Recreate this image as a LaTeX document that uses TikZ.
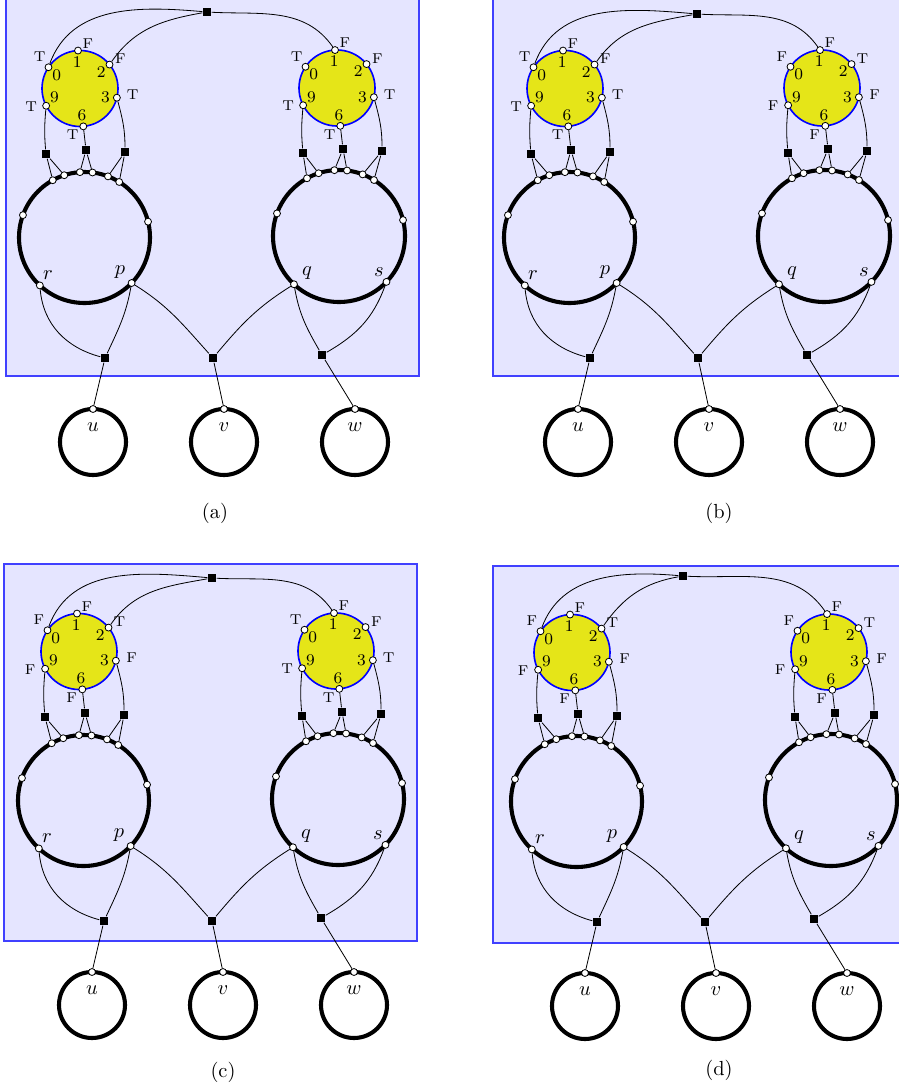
\documentclass[tikz,border=0pt]{standalone}
\usepackage{amsmath,amssymb}
\usepackage{xcolor}
\usepackage{tikz}
\usetikzlibrary{positioning}
\definecolor{gadgetyellow}{RGB}{229,229,24}

% variable gadget: six ports, digits inside, truth values outside
\newcommand{\yellowgadget}[4]{%
  \begin{scope}[shift={(#2)}]
    \draw[gadget] (0,0) circle (38);
    \foreach \p/\ang/\dang/\tang/\rad/\val in {0/146/150/142/51/#3, 1/93/96/80/46/F, 2/39/38/36/50/#4,
        3/-14/-19/-7/53/#3, 9/207/199/200/52/#3, 6/-85/-86/261/47/#3}{
      \node[port] (#1\p) at (\ang:38) {};
      \node[digit] (#1d\p) at (\dang:27) {\p};
      \node[tf] (#1v\p) at (\tang:\rad) {\val};
    }
  \end{scope}}

% big cycle with its ports
\newcommand{\bigring}[3]{%
  \begin{scope}[shift={(#2)}]
    \draw[ring] (0,0) circle (#3);
    \foreach \k/\ang in {1/119,2/108,3/94,4/83,5/69,6/58,7/160,8/14,9/227,10/316}
      \node[port] (#1\k) at (\ang:#3) {};
  \end{scope}}

% small cycle below the frame
\newcommand{\smallring}[3]{%
  \begin{scope}[shift={(#2)}]
    \draw[ring] (0,0) circle (33);
    \node[port] (#1) at (0,33) {};
    \node[var] (#1l) at (0,15) {$#3$};
  \end{scope}}

% one whole panel
\newcommand{\gadgetpanel}[6]{%
  \begin{scope}[shift={(#1)}]
    \yellowgadget{yl}{80,-88.5}{#3}{#4}
    \yellowgadget{yr}{337,-88}{#5}{#6}
    \bigring{bl}{84.5,-237.5}{65.5}
    \bigring{br}{339,-236}{66}
    \node[var] (lr) at (48,-275) {$r$};
    \node[var] (lp) at (120,-272) {$p$};
    \node[var] (lq) at (307,-273) {$q$};
    \node[var] (ls) at (379,-272) {$s$};
    \smallring{u}{93,-442}{u}
    \smallring{v}{224,-442}{v}
    \smallring{w}{355,-442}{w}
    % squares
    \node[sq] (top) at (#2) {};
    \node[sq] (la) at (46,-154) {};
    \node[sq] (lb) at (86,-150) {};
    \node[sq] (lc) at (125,-152) {};
    \node[sq] (ra) at (303,-153) {};
    \node[sq] (rb) at (343,-149) {};
    \node[sq] (rc) at (382,-151) {};
    \node[sq] (b1) at (105,-358) {};
    \node[sq] (b2) at (213,-358) {};
    \node[sq] (b3) at (322,-355) {};
    % top wires
    \draw[wire] (yl0) to[out=70,in=175] (top);
    \draw[wire] (yl2) to[out=55,in=190] (top);
    \draw[wire] (top) to[out=-3,in=125] (yr1);
    % gadget to ring
    \draw[wire] (yl9) to[out=-95,in=95] (la);
    \draw[wire] (yl6) -- (lb);
    \draw[wire] (yl3) to[out=-75,in=90] (lc);
    \draw[wire] (yr9) to[out=-95,in=95] (ra);
    \draw[wire] (yr6) -- (rb);
    \draw[wire] (yr3) to[out=-75,in=90] (rc);
    \draw[wire] (la) -- (bl1); \draw[wire] (la) -- (bl2);
    \draw[wire] (lb) -- (bl3); \draw[wire] (lb) -- (bl4);
    \draw[wire] (lc) -- (bl5); \draw[wire] (lc) -- (bl6);
    \draw[wire] (ra) -- (br1); \draw[wire] (ra) -- (br2);
    \draw[wire] (rb) -- (br3); \draw[wire] (rb) -- (br4);
    \draw[wire] (rc) -- (br5); \draw[wire] (rc) -- (br6);
    % bottom wires
    \draw[wire] (bl9) to[out=-85,in=165] (b1);
    \draw[wire] (bl10) to[out=-100,in=65] (b1);
    \draw[wire] (bl10) to[out=-32,in=132] (b2);
    \draw[wire] (br9) to[out=-148,in=50] (b2);
    \draw[wire] (br9) to[out=-80,in=120] (b3);
    \draw[wire] (br10) to[out=-110,in=30] (b3);
    \draw[wire] (b1) -- (u);
    \draw[wire] (b2) -- (v);
    \draw[wire] (b3) -- (w);
  \end{scope}}

\begin{document}
\begin{tikzpicture}[x=0.49pt, y=0.49pt,
    frame/.style={fill=blue!10, draw=blue!75, line width=0.6pt},
    gadget/.style={draw=blue, fill=gadgetyellow, line width=0.8pt},
    ring/.style={draw=black, line width=2pt},
    port/.style={circle, draw=black, fill=white, inner sep=0pt, minimum size=3.4pt, line width=0.4pt},
    sq/.style={rectangle, fill=black, inner sep=0pt, minimum size=4.2pt},
    wire/.style={black, line width=0.4pt},
    digit/.style={font=\footnotesize, inner sep=0pt},
    tf/.style={font=\scriptsize, inner sep=0pt},
    var/.style={inner sep=0pt},
    caption/.style={inner sep=0pt}
]
\useasboundingbox (0,0) rectangle (899,-1091);
% PANEL (a)
\draw[frame] (6,4) rectangle (419,-376);
\gadgetpanel{0,0}{207,-12}{T}{F}{T}{F}
\node[caption] (capa) at (215,-513) {(a)};
% PANEL (b)
\draw[frame] (493,4) rectangle (906,-376);
\gadgetpanel{485,0}{212,-14}{T}{F}{F}{T}
\node[caption] (capb) at (719,-513) {(b)};
% PANEL (c)
\draw[frame] (4,-564) rectangle (417,-941);
\gadgetpanel{-1,-563}{213,-15}{F}{T}{T}{F}
\node[caption] (capc) at (223,-1072) {(c)};
% PANEL (d)
\draw[frame] (493,-566) rectangle (906,-943);
\gadgetpanel{492,-564}{191,-12}{F}{T}{F}{T}
\node[caption] (capd) at (719,-1070) {(d)};
\end{tikzpicture}
\end{document}
